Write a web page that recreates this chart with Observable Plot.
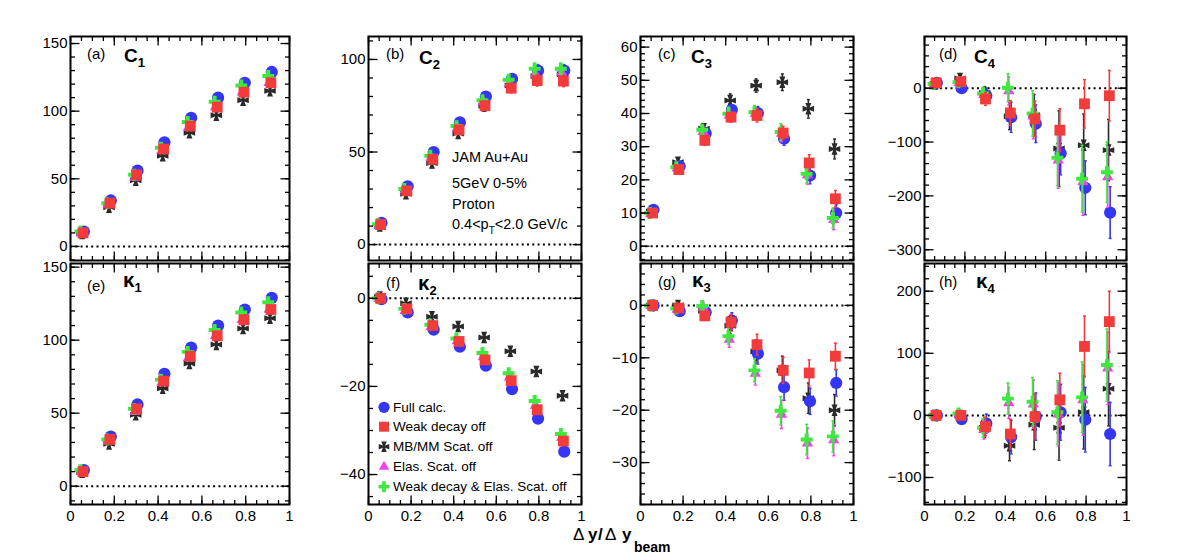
<!DOCTYPE html>
<html><head><meta charset="utf-8">
<script src="https://cdn.jsdelivr.net/npm/d3@7"></script>
<script src="https://cdn.jsdelivr.net/npm/@observablehq/plot@0.6"></script>
<style>
html,body{margin:0;padding:0;background:#fff;}
#root{position:relative;width:1182px;height:555px;overflow:hidden;background:#fff;}
#root svg{position:absolute;overflow:visible;}
</style></head><body><div id="root"></div>
<script>
// ---------------- data ----------------
const xCenters = [0.061, 0.184, 0.306, 0.429, 0.551, 0.674, 0.796, 0.919];
const seriesNames = ["Full calc.", "Weak decay off", "MB/MM Scat. off", "Elas. Scat. off", "Weak decay & Elas. Scat. off"];
const xTicks = [0, 0.2, 0.4, 0.6, 0.8, 1];
const xTickLabels = ["0", "0.2", "0.4", "0.6", "0.8", "1"];
const infoLines = ["JAM Au+Au", "5GeV 0-5%", "Proton"];
const xTitle = ["Δ", "y", "/", "Δ", "y", "beam"];

// series order: full, weak decay off, MB/MM off, elas off, weak & elas off
const c1Val = [
  [11, 34, 56, 77, 95, 110, 121, 129],
  [10, 32, 53, 72, 89, 103, 114, 121],
  [9.5, 29, 49, 67, 84, 97, 108, 115],
  [10, 31, 51, 71, 88, 103, 114, 121],
  [11, 32, 53, 73, 92, 107, 119, 126]];
const c1Err = [
  [1, 1.5, 1.5, 2, 2, 2, 2.5, 2.5],
  [1, 1.5, 1.5, 2, 2, 2, 2.5, 2.5],
  [1, 1.5, 2, 2, 2.5, 2.5, 3, 3],
  [1, 1.5, 1.5, 2, 2, 2, 2.5, 2.5],
  [1, 1.5, 1.5, 2, 2, 2, 2.5, 2.5]];
const c1Ticks = [0, 50, 100, 150];

const c2Val = [
  [11.7, 31.5, 50, 66, 80, 89.5, 94, 94],
  [10.8, 29, 46, 62, 75, 84.5, 88.6, 88.3],
  [10, 27.5, 44, 60, 75, 86, 91, 92],
  [10.5, 29.5, 47, 63, 77, 87, 92, 93],
  [11, 30, 48, 64, 78, 89, 95, 95]];
const c2Err = [
  [1, 1.5, 2, 2, 2.5, 2.5, 3, 3],
  [1, 1.5, 2, 2, 2.5, 2.5, 3, 3],
  [1, 2, 2.5, 2.5, 3, 3, 3, 3],
  [1, 1.5, 2, 2, 2.5, 2.5, 3, 3],
  [1, 1.5, 2, 2, 2.5, 2.5, 3, 3]];
const c2Ticks = [0, 50, 100];

const c3Val = [
  [11, 24.1, 34, 41.1, 40.1, 32.4, 21.3, 10],
  [10, 23.1, 31.9, 38.9, 39.4, 34.1, 25.1, 14.3],
  [10.5, 25.3, 35.4, 43.9, 48.4, 49.4, 41.4, 29.3],
  [9.8, 23.5, 34.5, 39.5, 40, 34, 21.5, 8],
  [10, 23.8, 35.1, 39.9, 40.4, 34.4, 21.8, 8.5]];
const c3Err = [
  [0.5, 1, 1.5, 1.5, 2, 2, 2.5, 2.5],
  [0.5, 1, 1.5, 1.5, 2, 2, 2.5, 2.5],
  [0.5, 1, 1.5, 2, 2, 2.5, 2.8, 3],
  [0.5, 1, 1.5, 2, 2, 2.5, 2.8, 3],
  [0.5, 1, 1.5, 2, 2, 2.5, 2.8, 3]];
const c3Ticks = [0, 10, 20, 30, 40, 50, 60];

const c4Val = [
  [10, 0, -14, -54, -66, -121, -185, -231],
  [10, 12, -20, -46, -57, -78, -29, -14],
  [8, 18, -9, -52, -50, -112, -106, -115],
  [7, 10, -12, -5, -52, -134, -174, -165],
  [8, 11, -10, 1, -47, -129, -168, -156]];
const c4Err = [
  [4, 6, 12, 28, 35, 40, 50, 48],
  [4, 6, 12, 23, 33, 40, 45, 47],
  [4, 7, 12, 25, 38, 70, 58, 57],
  [4, 6, 12, 26, 42, 52, 62, 56],
  [4, 6, 12, 26, 42, 52, 62, 56]];
const c4Ticks = [-300, -200, -100, 0];

const k1Val = [
  [11, 34, 56, 77, 95, 110, 121, 129],
  [10, 32, 53, 72, 89, 103, 114, 121],
  [9.5, 29, 49, 67, 84, 97, 108, 115],
  [10, 31, 51, 71, 88, 103, 114, 121],
  [11, 32, 53, 73, 92, 107, 119, 126]];
const k1Err = [
  [1, 1.5, 1.5, 2, 2, 2, 2.5, 2.5],
  [1, 1.5, 1.5, 2, 2, 2, 2.5, 2.5],
  [1, 1.5, 2, 2, 2.5, 2.5, 3, 3],
  [1, 1.5, 1.5, 2, 2, 2, 2.5, 2.5],
  [1, 1.5, 1.5, 2, 2, 2, 2.5, 2.5]];
const k1Ticks = [0, 50, 100, 150];

const k2Val = [
  [-0.2, -3.2, -7.1, -11, -15.3, -20.6, -27.3, -34.8],
  [0, -2.4, -6.2, -9.8, -14, -18.7, -25.3, -32.4],
  [0.3, -1.1, -4.2, -6.4, -8.9, -12, -16.6, -22.1],
  [-0.1, -2.8, -6.4, -9.7, -13.3, -17.9, -24.3, -31.6],
  [0, -2.4, -6, -9.1, -12.4, -17, -23.3, -30.8]];
const k2Err = [
  [0.2, 0.3, 0.3, 0.3, 0.4, 0.4, 0.5, 0.5],
  [0.2, 0.3, 0.3, 0.3, 0.4, 0.4, 0.5, 0.5],
  [0.8, 0.8, 0.6, 0.6, 0.6, 0.6, 0.6, 0.6],
  [0.2, 0.3, 0.3, 0.3, 0.4, 0.4, 0.5, 0.5],
  [0.2, 0.3, 0.3, 0.3, 0.4, 0.4, 0.5, 0.5]];
const k2Ticks = [-40, -20, 0];

const k3Val = [
  [0, -1.1, -1.3, -2.9, -9.2, -15.6, -18.3, -14.8],
  [0, -0.5, -2, -3.2, -7.5, -12.4, -12.9, -9.7],
  [0, 0, -1, -3.9, -8.8, -12.4, -17.7, -20],
  [0, -0.8, -0.4, -6.5, -13, -20.8, -26.3, -25.7],
  [0, -0.6, -0.1, -5.9, -12.4, -20.1, -25.6, -25]];
const k3Err = [
  [0.2, 0.5, 0.8, 1.5, 2, 2.5, 2.5, 2.5],
  [0.2, 0.5, 0.8, 1.5, 2, 2.5, 2.5, 2.5],
  [0.2, 0.6, 1, 1.5, 2.2, 2.7, 2.9, 3],
  [0.2, 0.6, 1, 1.5, 2.2, 2.7, 2.9, 3],
  [0.2, 0.6, 1, 1.5, 2.2, 2.7, 2.9, 3]];
const k3Ticks = [-30, -20, -10, 0];

const k4Val = [
  [0, -6, -13, -35, -2, 5, -7, -30],
  [0, 0, -18, -30, -2, 25, 111, 151],
  [0, 0, -20, -49, -15, -20, 5, 43],
  [0, 2, -23, 20, 18, 2, 25, 76],
  [0, 3, -20, 27, 22, 5, 29, 81]];
const k4Err = [
  [3, 6, 15, 27, 38, 45, 52, 51],
  [3, 6, 15, 24, 36, 43, 49, 49],
  [3, 6, 16, 24, 40, 52, 59, 60],
  [3, 6, 15, 25, 39, 51, 57, 58],
  [3, 6, 15, 25, 39, 51, 57, 58]];
const k4Ticks = [-100, 0, 100, 200];

// ---------------- styles ----------------
const FONT = "'Liberation Sans', Arial, Helvetica, sans-serif";
const crossPattee = {
  draw(ctx, size) {
    const h = Math.sqrt(size) * 0.54, w = h * 0.52, c = h * 0.22;
    ctx.moveTo(-w, -h); ctx.lineTo(w, -h); ctx.lineTo(c, -c);
    ctx.lineTo(h, -w); ctx.lineTo(h, w); ctx.lineTo(c, c);
    ctx.lineTo(w, h); ctx.lineTo(-w, h); ctx.lineTo(-c, c);
    ctx.lineTo(-h, w); ctx.lineTo(-h, -w); ctx.lineTo(-c, -c);
    ctx.closePath();
  }
};
const seriesStyle = [
  {color: "#3535f5", symbol: "circle", d3sym: d3.symbolCircle, r: 6.1, dx: 0.000},
  {color: "#f23b3b", symbol: "square", d3sym: d3.symbolSquare, r: 6.1, dx: -0.004},
  {color: "#2a2a2a", symbol: crossPattee, d3sym: crossPattee, r: 6.0, dx: -0.008},
  {color: "#f040f0", symbol: "triangle", d3sym: d3.symbolTriangle, r: 4.2, dx: -0.012},
  {color: "#3ee83e", symbol: "cross", d3sym: d3.symbolCross, r: 5.0, dx: -0.016}
];
const drawOrder = [2, 0, 3, 4, 1];

const colX = [[70, 289], [368, 581], [640, 853], [924, 1126]];
const rowY = [[36, 260], [263, 504]];

const panels = [
  {col: 0, row: 0, vals: c1Val, errs: c1Err, domain: [-10.4, 155.2], ticks: c1Ticks, minor: 10, tag: "(a)", sym: "C", sub: "1", tagDx: 17, symDx: 54, tagBy: 22.5, symBy: 25.5},
  {col: 1, row: 0, vals: c2Val, errs: c2Err, domain: [-8.6, 112.4], ticks: c2Ticks, minor: 10, tag: "(b)", sym: "C", sub: "2", tagDx: 18, symDx: 51, tagBy: 22.5, symBy: 27.5},
  {col: 2, row: 0, vals: c3Val, errs: c3Err, domain: [-4.3, 63.2], ticks: c3Ticks, minor: 2, tag: "(c)", sym: "C", sub: "3", tagDx: 18, symDx: 51, tagBy: 22.5, symBy: 27},
  {col: 3, row: 0, vals: c4Val, errs: c4Err, domain: [-320, 96], ticks: c4Ticks, minor: 20, tag: "(d)", sym: "C", sub: "4", tagDx: 15, symDx: 50, tagBy: 22.5, symBy: 27},
  {col: 0, row: 1, vals: k1Val, errs: k1Err, domain: [-12.5, 152.5], ticks: k1Ticks, minor: 10, tag: "(e)", sym: "κ", sub: "1", tagDx: 17, symDx: 53, tagBy: 28, symBy: 24},
  {col: 1, row: 1, vals: k2Val, errs: k2Err, domain: [-46.8, 7.9], ticks: k2Ticks, minor: 5, tag: "(f)", sym: "κ", sub: "2", tagDx: 18, symDx: 50, tagBy: 25, symBy: 27},
  {col: 2, row: 1, vals: k3Val, errs: k3Err, domain: [-38, 8], ticks: k3Ticks, minor: 2, tag: "(g)", sym: "κ", sub: "3", tagDx: 18, symDx: 52, tagBy: 24, symBy: 24},
  {col: 3, row: 1, vals: k4Val, errs: k4Err, domain: [-143.5, 244.6], ticks: k4Ticks, minor: 20, tag: "(h)", sym: "κ", sub: "4", tagDx: 15, symDx: 52, tagBy: 24, symBy: 24.5}
];

function stepTicks(lo, hi, step) {
  const out = [];
  for (let v = Math.ceil(lo / step) * step; v <= hi + 1e-9; v += step) out.push(+v.toFixed(6));
  return out;
}
const fmtY = d3.format("d");
const root = document.getElementById("root");

function makePanel(p) {
  const [fx0, fx1] = colX[p.col], [fy0, fy1] = rowY[p.row];
  const fw = fx1 - fx0, fh = fy1 - fy0;
  const bottom = p.row === 1;
  const mL = 50, mR = 6, mT = 6, mB = bottom ? 34 : 6;
  const [y0, y1] = p.domain;
  const ky = (y1 - y0) / fh, kx = 1 / fw;
  const marks = [];
  marks.push(Plot.ruleY([0], {stroke: "#000", strokeWidth: 2, strokeDasharray: "2,3.3"}));
  for (const s of drawOrder) {
    const st = seriesStyle[s];
    const rows = xCenters.map((x, i) => ({x: x + st.dx, y: p.vals[s][i], e: p.errs[s][i]}));
    marks.push(Plot.ruleX(rows, {x: "x", y1: d => d.y - d.e, y2: d => d.y + d.e, stroke: st.color, strokeWidth: 1.6}));
    for (const sg of [1, -1]) {
      marks.push(Plot.link(rows, {x1: d => d.x - 1.5 * kx, x2: d => d.x + 1.5 * kx, y1: d => d.y + sg * d.e, y2: d => d.y + sg * d.e, stroke: st.color, strokeWidth: 1.4}));
    }
    marks.push(Plot.dot(rows, {x: "x", y: "y", r: st.r, symbol: st.symbol, fill: st.color, stroke: "none"}));
  }
  // ROOT-style inward ticks
  const yMinor = stepTicks(y0, y1, p.minor);
  const xMinor = stepTicks(0, 1, 0.05);
  const tk = {stroke: "#000", strokeWidth: 1.3};
  const LM = 9, Lm = 4.5;
  for (const [arr, L] of [[p.ticks, LM], [yMinor, Lm]]) {
    marks.push(Plot.link(arr, {x1: 0, x2: L * kx, y1: d => d, y2: d => d, ...tk}));
    marks.push(Plot.link(arr, {x1: 1 - L * kx, x2: 1, y1: d => d, y2: d => d, ...tk}));
  }
  for (const [arr, L] of [[xTicks, LM], [xMinor, Lm]]) {
    marks.push(Plot.link(arr, {x1: d => d, x2: d => d, y1: y0, y2: y0 + L * ky, ...tk}));
    marks.push(Plot.link(arr, {x1: d => d, x2: d => d, y1: y1 - L * ky, y2: y1, ...tk}));
  }
  marks.push(Plot.frame({stroke: "#000", strokeWidth: 2}));
  marks.push(Plot.axisY(p.ticks, {anchor: "left", tickSize: 0, tickPadding: 3, label: null, tickFormat: fmtY, fontSize: 15}));
  if (bottom) marks.push(Plot.axisX(xTicks, {anchor: "bottom", tickSize: 0, tickPadding: 6, label: null, tickFormat: d => xTickLabels[xTicks.indexOf(d)], fontSize: 15}));
  const svg = Plot.plot({
    width: fw + mL + mR, height: fh + mT + mB,
    marginLeft: mL, marginRight: mR, marginTop: mT, marginBottom: mB,
    x: {domain: [0, 1], axis: bottom ? undefined : null},
    y: {domain: p.domain},
    style: {fontFamily: FONT, fontSize: "15px", background: "none", color: "#000", overflow: "visible"},
    marks
  });
  svg.style.left = (fx0 - mL) + "px";
  svg.style.top = (fy0 - mT) + "px";
  svg.style.maxWidth = "none";
  root.appendChild(svg);

  const g = d3.select(svg).append("g").attr("font-family", FONT).attr("fill", "#000").attr("text-anchor", "start");
  g.append("text").attr("x", mL + p.tagDx).attr("y", mT + p.tagBy).attr("font-size", 15).text(p.tag);
  const t = g.append("text").attr("x", mL + p.symDx).attr("y", mT + p.symBy).attr("font-size", p.sym === "κ" ? 20.5 : 19).attr("font-weight", "bold");
  t.append("tspan").text(p.sym);
  t.append("tspan").attr("font-size", 13).attr("dy", 5).text(p.sub);
  return {svg, g, mL, mT};
}

const built = panels.map(makePanel);

// info text in (b)
{
  const {g, mL, mT} = built[1];
  const base = [125.7, 152.3, 173, 193.3];
  infoLines.forEach((s, i) => g.append("text").attr("x", mL + 84).attr("y", mT + base[i]).attr("font-size", 14.5).text(s));
  const t = g.append("text").attr("x", mL + 84).attr("y", mT + base[3]).attr("font-size", 14.5);
  t.append("tspan").text("0.4<p");
  t.append("tspan").attr("font-size", 10).attr("dy", 5).text("T");
  t.append("tspan").attr("dy", -5).text("<2.0 GeV/c");
}
// legend in (f)
{
  const {g, mL, mT} = built[5];
  const rowsY = [144.3, 163.7, 183.7, 203.7, 223.7];
  seriesNames.forEach((name, i) => {
    const st = seriesStyle[i];
    const r = st.r * 0.92;
    g.append("path")
      .attr("d", d3.symbol(st.d3sym, Math.PI * r * r)())
      .attr("transform", `translate(${mL + 16},${mT + rowsY[i]})`)
      .attr("fill", st.color);
    g.append("text").attr("x", mL + 25).attr("y", mT + rowsY[i] + 4.6).attr("font-size", 13.5).text(name);
  });
}
// x-axis title
{
  const svg = d3.select(root).append("svg").attr("width", 1182).attr("height", 555)
    .style("left", "0px").style("top", "0px").style("pointer-events", "none");
  const t = svg.append("text").attr("y", 540).attr("font-family", FONT).attr("font-size", 17)
    .attr("fill", "#000").attr("text-anchor", "start");
  const xs = [573, 588, 598, 605, 622, 634];
  const bold = [false, true, true, false, true, true];
  xTitle.forEach((s, i) => {
    const sp = t.append("tspan").attr("x", xs[i]).attr("font-weight", bold[i] ? "bold" : "normal").text(s);
    if (i === 5) sp.attr("font-size", 14).attr("dy", 12);
  });
}
</script></body></html>
